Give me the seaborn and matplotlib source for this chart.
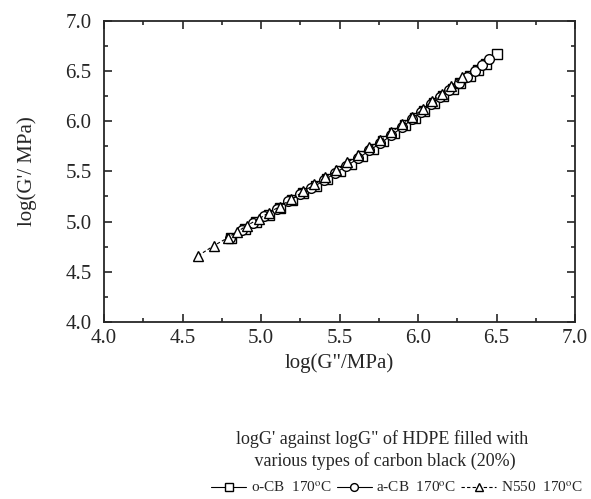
import seaborn as sns
import matplotlib
matplotlib.use("Agg")
import matplotlib.pyplot as plt
import pandas as pd
from matplotlib.ticker import MultipleLocator

# 数据
ocb_x = [4.81, 4.90, 4.97, 5.05, 5.12, 5.20, 5.27, 5.35, 5.42, 5.50, 5.57, 5.64, 5.71,
         5.78, 5.85, 5.92, 5.98, 6.04, 6.10, 6.16, 6.22, 6.27, 6.33, 6.38, 6.43, 6.50]
ocb_y = [4.84, 4.93, 5.00, 5.07, 5.14, 5.21, 5.28, 5.35, 5.42, 5.50, 5.57, 5.65, 5.72,
         5.80, 5.88, 5.96, 6.03, 6.10, 6.18, 6.25, 6.32, 6.38, 6.45, 6.51, 6.57, 6.67]
acb_x = [4.80, 4.88, 4.95, 5.02, 5.10, 5.17, 5.25, 5.32, 5.40, 5.47, 5.54, 5.62, 5.69,
         5.76, 5.83, 5.90, 5.96, 6.02, 6.08, 6.14, 6.20, 6.26, 6.31, 6.36, 6.41, 6.45]
acb_y = [4.84, 4.92, 4.99, 5.06, 5.13, 5.20, 5.27, 5.33, 5.41, 5.48, 5.55, 5.63, 5.71,
         5.78, 5.86, 5.94, 6.02, 6.09, 6.17, 6.24, 6.31, 6.38, 6.44, 6.50, 6.56, 6.62]
n550_x = [4.60, 4.70, 4.79, 4.85, 4.91, 4.99, 5.05, 5.12, 5.19, 5.27, 5.34, 5.41, 5.48,
          5.55, 5.62, 5.69, 5.76, 5.83, 5.90, 5.96, 6.03, 6.09, 6.15, 6.21, 6.28]
n550_y = [4.66, 4.76, 4.84, 4.90, 4.96, 5.03, 5.09, 5.15, 5.22, 5.30, 5.37, 5.44, 5.51,
          5.59, 5.66, 5.74, 5.81, 5.89, 5.97, 6.04, 6.12, 6.20, 6.27, 6.35, 6.44]

labels = ["o-CB  170$^{\\rm o}$C", "a-CB  170$^{\\rm o}$C", "N550  170$^{\\rm o}$C"]

df = pd.concat([
    pd.DataFrame({"x": ocb_x, "y": ocb_y, "s": labels[0]}),
    pd.DataFrame({"x": acb_x, "y": acb_y, "s": labels[1]}),
    pd.DataFrame({"x": n550_x, "y": n550_y, "s": labels[2]}),
], ignore_index=True)

sns.set_style("ticks")
plt.rcParams['font.family'] = ['Liberation Serif', 'DejaVu Serif']
plt.rcParams['mathtext.fontset'] = 'stix'

fig = plt.figure(figsize=(5.91, 4.99), dpi=100)
ax = fig.add_axes([0.176, 0.355, 0.797, 0.603])

sns.lineplot(data=df, x="x", y="y", style="s", sort=False, color="black",
             markers={labels[0]: "s", labels[1]: "o", labels[2]: "^"},
             dashes={labels[0]: "", labels[1]: "", labels[2]: (3, 2)},
             markersize=7, markerfacecolor="white", markeredgecolor="black",
             markeredgewidth=1.0, linewidth=0.8, ax=ax, legend=True)

ax.set_xlim(4.0, 7.0)
ax.set_ylim(4.0, 7.0)
ax.xaxis.set_major_locator(MultipleLocator(0.5))
ax.yaxis.set_major_locator(MultipleLocator(0.5))
ax.xaxis.set_minor_locator(MultipleLocator(0.25))
ax.yaxis.set_minor_locator(MultipleLocator(0.25))
ax.xaxis.set_major_formatter(matplotlib.ticker.FormatStrFormatter("%.1f"))
ax.yaxis.set_major_formatter(matplotlib.ticker.FormatStrFormatter("%.1f"))
ax.tick_params(which="both", direction="in", top=True, right=True, labelsize=15, width=1.2)
ax.tick_params(axis="y", which="major", length=6, pad=9)
ax.tick_params(axis="x", which="major", length=6, pad=5)
ax.tick_params(which="minor", length=3)
for sp in ax.spines.values():
    sp.set_linewidth(1.3)
ax.set_xlabel('log(G"/MPa)', fontsize=15, labelpad=4)
ax.set_ylabel("log(G'/ MPa)", fontsize=15, labelpad=20)

handles, labs = ax.get_legend_handles_labels()
ax.get_legend().remove()
fig.legend(handles, labs, loc="lower center", bbox_to_anchor=(0.672, -0.008), ncol=3,
           frameon=False, fontsize=11, handlelength=2.3, columnspacing=0.3,
           handletextpad=0.3, borderaxespad=0.1, markerscale=0.8)

fig.text(0.647, 0.098, "logG' against logG\" of HDPE filled with\n various types of carbon black (20%)",
         ha="center", va="center", fontsize=13, linespacing=1.35)

fig.savefig("out.png", dpi=100)
